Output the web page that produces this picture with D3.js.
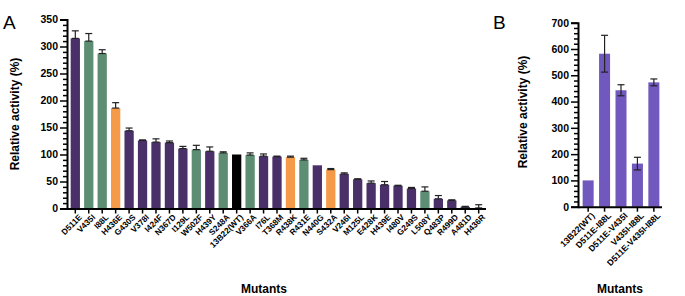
<!doctype html>
<html>
<head>
<meta charset="utf-8">
<script src="https://cdn.jsdelivr.net/npm/d3@7"></script>
<style>
  body { margin: 0; background: #fff; }
  text { font-family: "Liberation Sans", Arial, sans-serif; font-weight: bold; }
</style>
</head>
<body>
<svg id="chart" width="685" height="296"></svg>
<script>
// Panel A: single mutants
const mutantsA = ["D511E","V435I","I88L","H436E","G430S","V378I","I424F","N367D","I129L","W502F",
  "H439Y","S248A","13B22(WT)","V366A","I76L","T368M","R438K","R431E","N440G","S432A",
  "V246I","M125L","E428K","H439E","I480V","G249S","L508Y","Q483P","R499D","A481D","H436R"];
const activityA = [315,310,287,186,144,126,123,122,111,109,106,103,100,99,97,96,95,90,80,72,
  64,54,47,44,42,37,32,18,15,3,1];
const errorA = [14,14,7,10,5,1,6,3,4,8,8,2,0,4,4,1,2,3,0,2,2,1,4,6,1,2,8,6,1,1,6];
const groupA = ["p","g","g","o","p","p","p","p","p","g","p","g","wt","g","p","p","o","g","p","o",
  "p","p","p","p","p","p","g","p","p","p","p"];

// Panel B: combined mutants
const mutantsB = ["13B22(WT)","D511E-I88L","D511E-V435I","V435I-I88L","D511E-V435I-I88L"];
const activityB = [100,582,443,164,473];
const errorB = [0,70,21,24,13];

const colors = {p: "#4a3069", g: "#5d8e74", o: "#f59a48", wt: "#000000"};

const svg = d3.select("#chart");

function errorBar(g, cx, top, bottom) {
  g.append("line").attr("x1", cx).attr("x2", cx).attr("y1", bottom).attr("y2", top)
    .attr("stroke", "#222").attr("stroke-width", 1.2);
  [top, bottom].forEach(yy => g.append("line").attr("x1", cx - 3.5).attr("x2", cx + 3.5)
    .attr("y1", yy).attr("y2", yy).attr("stroke", "#222").attr("stroke-width", 1.2));
}

// ---------- Panel A ----------
const yA = d3.scaleLinear().domain([0, 350]).range([208.5, 19.5]);
const xA = d3.scaleBand().domain(mutantsA).range([70, 484]).paddingInner(0.31).paddingOuter(0.05);
const axA = 67;

const gA = svg.append("g");
gA.selectAll("rect").data(mutantsA).join("rect")
  .attr("x", d => xA(d))
  .attr("width", xA.bandwidth())
  .attr("y", (d, i) => yA(activityA[i]))
  .attr("height", (d, i) => yA(0) - yA(activityA[i]))
  .attr("fill", (d, i) => colors[groupA[i]]);

mutantsA.forEach((d, i) => {
  if (!errorA[i]) return;
  const top = yA(activityA[i] + errorA[i]);
  errorBar(gA, xA(d) + xA.bandwidth() / 2, top, yA(activityA[i]));
});

const yAxA = gA.append("g").attr("transform", `translate(${axA},0)`)
  .call(d3.axisLeft(yA).tickValues(d3.range(0, 351, 50)).tickSize(7).tickPadding(2));
gA.append("g").attr("transform", `translate(${axA},0)`)
  .call(d3.axisLeft(yA).tickValues(d3.range(0, 351, 10).filter(v => v % 50)).tickSize(4).tickFormat(""))
  .select(".domain").remove();
const xAxA = gA.append("g").attr("transform", `translate(0,${yA(0)})`)
  .call(d3.axisBottom(xA).tickSize(5).tickPadding(2).tickSizeOuter(0));
xAxA.select(".domain").attr("d", `M${axA},0.5H486`);

// ---------- Panel B ----------
const yB = d3.scaleLinear().domain([0, 700]).range([206.7, 22.7]);
const xB = d3.scaleBand().domain(mutantsB).range([581, 661]).paddingInner(0.33).paddingOuter(0.1);
const axB = 578;

const gB = svg.append("g");
gB.selectAll("rect").data(mutantsB).join("rect")
  .attr("x", d => xB(d))
  .attr("width", xB.bandwidth())
  .attr("y", (d, i) => yB(activityB[i]))
  .attr("height", (d, i) => yB(0) - yB(activityB[i]))
  .attr("fill", "#7058be");

mutantsB.forEach((d, i) => {
  if (!errorB[i]) return;
  errorBar(gB, xB(d) + xB.bandwidth() / 2,
    yB(activityB[i] + errorB[i]), yB(activityB[i] - errorB[i]));
});

const yAxB = gB.append("g").attr("transform", `translate(${axB},0)`)
  .call(d3.axisLeft(yB).tickValues(d3.range(0, 701, 100)).tickSize(7).tickPadding(2));
gB.append("g").attr("transform", `translate(${axB},0)`)
  .call(d3.axisLeft(yB).tickValues(d3.range(0, 701, 20).filter(v => v % 100)).tickSize(4).tickFormat(""))
  .select(".domain").remove();
const xAxB = gB.append("g").attr("transform", `translate(0,${yB(0)})`)
  .call(d3.axisBottom(xB).tickSize(5).tickPadding(2).tickSizeOuter(0));
xAxB.select(".domain").attr("d", `M${axB},0.5H662`);

// common axis styling
svg.selectAll(".domain").attr("stroke", "#000").attr("stroke-width", 2);
svg.selectAll(".tick line").attr("stroke", "#000").attr("stroke-width", 1.5);
svg.selectAll(".tick text").attr("fill", "#000");
[yAxA, yAxB].forEach(a => a.selectAll(".tick text").style("font-size", "10.5px"));
[[xAxA, "8.3px"], [xAxB, "8.6px"]].forEach(([a, fs]) => a.selectAll(".tick text")
  .attr("transform", "rotate(-45)")
  .attr("text-anchor", "end")
  .attr("dx", "-0.2em").attr("dy", "0.55em")
  .style("font-size", fs));

// titles
svg.append("text").attr("transform", "translate(19,114) rotate(-90)")
  .attr("text-anchor", "middle").style("font-size", "12px").text("Relative activity (%)");
svg.append("text").attr("transform", "translate(527,112) rotate(-90)")
  .attr("text-anchor", "middle").style("font-size", "12px").text("Relative activity (%)");
svg.append("text").attr("x", 264).attr("y", 293)
  .attr("text-anchor", "middle").style("font-size", "12px").text("Mutants");
svg.append("text").attr("x", 620).attr("y", 293)
  .attr("text-anchor", "middle").style("font-size", "12px").text("Mutants");
svg.append("text").attr("x", 3).attr("y", 29)
  .style("font-size", "19px").style("font-weight", "normal").text("A");
svg.append("text").attr("x", 493).attr("y", 29)
  .style("font-size", "19px").style("font-weight", "normal").text("B");
</script>
</body>
</html>
